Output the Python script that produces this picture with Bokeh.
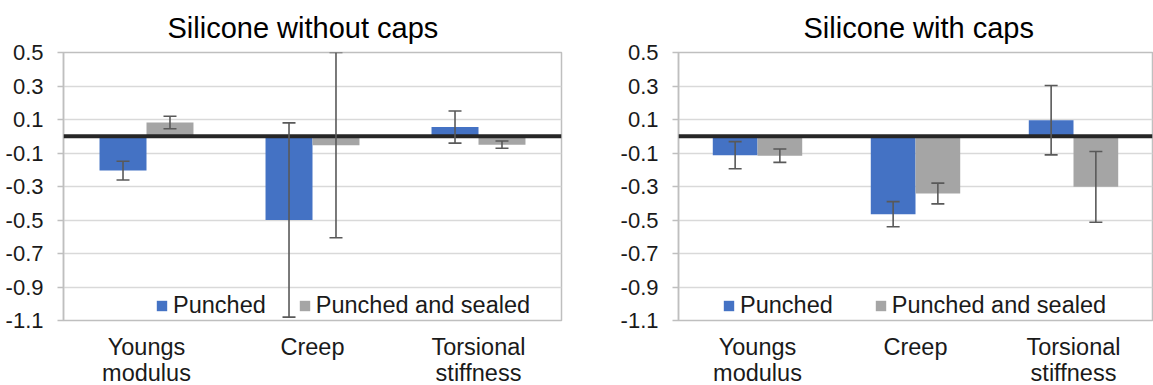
from bokeh.plotting import figure
from bokeh.models import (ColumnDataSource, FactorRange, FixedTicker, PrintfTickFormatter,
                          Whisker, TeeHead, Span, Legend, LegendItem, Title)
from bokeh.transform import dodge
from bokeh.layouts import row
from bokeh.embed import file_html
from bokeh.resources import INLINE

categories = ["Youngs\nmodulus", "Creep", "Torsional\nstiffness"]
y_ticks = [0.5, 0.3, 0.1, -0.1, -0.3, -0.5, -0.7, -0.9, -1.1]
series_names = ["Punched", "Punched and sealed"]

# Silicone without caps
nocap_punched = [-0.205, -0.50, 0.055]
nocap_punched_err = [0.056, 0.58, 0.096]
nocap_sealed = [0.082, -0.053, -0.050]
nocap_sealed_err = [0.037, 0.553, 0.022]

# Silicone with caps
cap_punched = [-0.113, -0.465, 0.096]
cap_punched_err = [0.081, 0.075, 0.207]
cap_sealed = [-0.116, -0.342, -0.302]
cap_sealed_err = [0.040, 0.062, 0.211]

BLUE = "#4472C4"
GREY = "#A5A5A5"
FONT = "Liberation Sans"
BAR_W = 0.283
OFF = BAR_W / 2
FRAME_H = 268


def make_chart(title, punched, p_err, sealed, s_err, fw, bl, br, legend_x, legend_spacing, title_offset):
    p = figure(x_range=FactorRange(*categories), y_range=(-1.1, 0.5),
               frame_width=fw, frame_height=FRAME_H, output_backend="svg", toolbar_location=None,
               min_border_left=bl, min_border_right=br, min_border_top=52, min_border_bottom=0)
    p.title = Title(text=title, align="left", text_font=FONT,
                    text_font_size="29px", text_font_style="normal", text_color="#000000",
                    standoff=17, offset=title_offset)
    p.background_fill_color = "white"
    p.border_fill_color = "white"
    p.outline_line_color = "#bfbfbf"
    p.outline_line_width = 1.5

    src = ColumnDataSource(dict(
        cat=categories,
        p=punched, p_up=[v + e for v, e in zip(punched, p_err)], p_lo=[v - e for v, e in zip(punched, p_err)],
        s=sealed, s_up=[v + e for v, e in zip(sealed, s_err)], s_lo=[v - e for v, e in zip(sealed, s_err)],
    ))

    r1 = p.vbar(x=dodge("cat", -OFF, range=p.x_range), top="p", bottom=0, width=BAR_W,
                source=src, fill_color=BLUE, line_color=None)
    r2 = p.vbar(x=dodge("cat", OFF, range=p.x_range), top="s", bottom=0, width=BAR_W,
                source=src, fill_color=GREY, line_color=None)

    zero = Span(location=0, dimension="width", line_color="#262626", line_width=4, level="annotation")
    p.add_layout(zero)

    for off, up, lo in [(-OFF, "p_up", "p_lo"), (OFF, "s_up", "s_lo")]:
        w = Whisker(base=dodge("cat", off, range=p.x_range), upper=up, lower=lo, source=src,
                    line_color="#595959", line_width=1.6, level="overlay",
                    upper_head=TeeHead(size=13, line_color="#595959", line_width=1.6),
                    lower_head=TeeHead(size=13, line_color="#595959", line_width=1.6))
        p.add_layout(w)

    p.yaxis.ticker = FixedTicker(ticks=y_ticks)
    p.yaxis.formatter = PrintfTickFormatter(format="%.1f")
    p.yaxis.axis_line_color = "#bfbfbf"
    p.yaxis.axis_line_width = 1.5
    p.yaxis.major_tick_line_color = "#bfbfbf"
    p.yaxis.major_tick_line_width = 1.5
    p.yaxis.major_tick_out = 6
    p.yaxis.major_tick_in = 0
    p.yaxis.minor_tick_line_color = None
    p.yaxis.major_label_standoff = 14
    p.yaxis.major_label_text_font = FONT
    p.yaxis.major_label_text_font_size = "22px"
    p.yaxis.major_label_text_color = "#1a1a1a"

    p.xaxis.axis_line_color = None
    p.xaxis.major_tick_line_color = None
    p.xaxis.minor_tick_line_color = None
    p.xaxis.major_tick_out = 0
    p.xaxis.major_tick_in = 0
    p.xaxis.major_label_standoff = 13
    p.xaxis.major_label_text_font = FONT
    p.xaxis.major_label_text_font_size = "23.5px"
    p.xaxis.major_label_text_color = "#1a1a1a"
    p.xaxis.major_label_text_line_height = 1.0

    p.xgrid.grid_line_color = None
    p.ygrid.grid_line_color = "#d9d9d9"
    p.ygrid.grid_line_width = 1.5

    legend = Legend(items=[LegendItem(label=series_names[0], renderers=[r1]),
                           LegendItem(label=series_names[1], renderers=[r2])],
                    orientation="horizontal", location=(legend_x, 1),
                    background_fill_alpha=0, border_line_color=None,
                    padding=0, margin=0, spacing=legend_spacing,
                    glyph_width=13, glyph_height=13, label_standoff=5,
                    label_text_font=FONT, label_text_font_size="23.5px", label_text_color="#1a1a1a")
    p.add_layout(legend)
    return p


left = make_chart("Silicone without caps", nocap_punched, nocap_punched_err, nocap_sealed, nocap_sealed_err,
                  fw=498, bl=63, br=29, legend_x=92, legend_spacing=32, title_offset=104)
right = make_chart("Silicone with caps", cap_punched, cap_punched_err, cap_sealed, cap_sealed_err,
                   fw=474, bl=88, br=1, legend_x=44, legend_spacing=41, title_offset=125)

layout = row(left, right, spacing=0)
open("out.html", "w").write(file_html(layout, INLINE))
